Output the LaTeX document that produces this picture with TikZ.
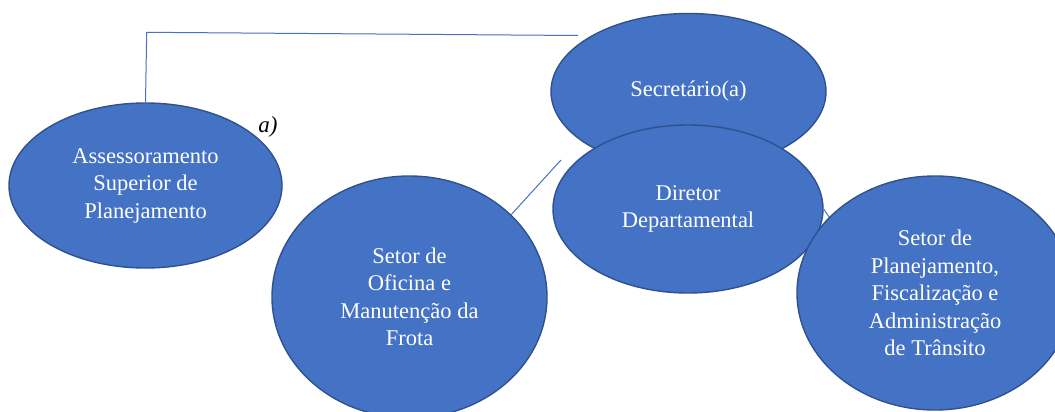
\documentclass[tikz,border=0pt]{standalone}
\usepackage{fontspec}
\setmainfont{Liberation Serif}
\usetikzlibrary{shapes.geometric}
\definecolor{boxfill}{HTML}{4472C4}
\definecolor{boxedge}{HTML}{2F528F}
\begin{document}
\begin{tikzpicture}[x=1pt,y=-1pt,
  unit/.style={ellipse, draw=boxedge, fill=boxfill, line width=1.4pt, inner sep=0pt,
    text=white, align=center, font=\fontsize{22.5}{27.5}\selectfont},
  link/.style={draw=boxfill, line width=1pt}]
\useasboundingbox (0,0) rectangle (1055,412);
% connector ends and lines (behind shapes)
\coordinate (secend) at (578,35.5);
\coordinate (dirend) at (561,160);
\coordinate (planend) at (829.5,217.5);
\node[unit, minimum width=273pt, minimum height=165pt] (ass) at (145.5,185.5)
  {Assessoramento\\Superior de\\Planejamento};
\draw[link] (ass.north) -- (146.7,32.3) -- (secend);
\node[unit, minimum width=275pt, minimum height=156pt] (sec) at (688.5,91.5) {Secretário(a)};
\node[unit, minimum width=270pt, minimum height=168pt] (dir) at (688,209) {Diretor\\Departamental};
\node[unit, minimum width=275pt, minimum height=242pt] (ofi) at (409.5,297)
  {Setor de\\Oficina e\\Manutenção da\\Frota};
\draw[link] (ofi.39) -- (dirend);
\draw[link] (dir.east) -- (planend);
\node[unit, minimum width=276pt, minimum height=234pt] (plan) at (935,293)
  {Setor de\\Planejamento,\\Fiscalização e\\Administração\\de Trânsito};
\node[font=\fontsize{23}{27}\selectfont\itshape, inner sep=0pt] (lbl) at (268,127) {a)};
\end{tikzpicture}
\end{document}
